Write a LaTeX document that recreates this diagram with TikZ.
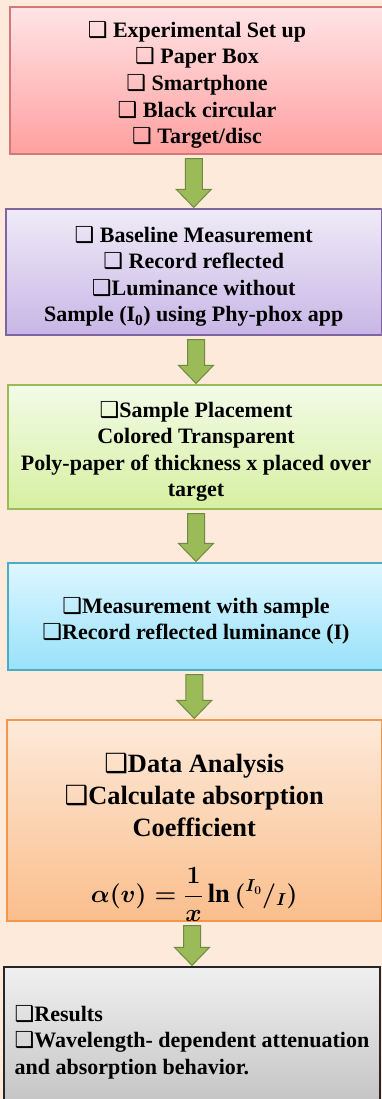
\documentclass[tikz,border=0pt]{standalone}
\usepackage{amsmath}
\usepackage{fontspec}
\setmainfont{Liberation Serif}
\newfontfamily\dingfont{DejaVu Sans}
\usetikzlibrary{calc}
\definecolor{pagebg}{RGB}{253,234,218}
\definecolor{setuptop}{RGB}{255,228,230}
\definecolor{setupbot}{RGB}{255,160,160}
\definecolor{setupedge}{RGB}{214,118,118}
\definecolor{basetop}{RGB}{239,235,247}
\definecolor{basebot}{RGB}{200,182,230}
\definecolor{baseedge}{RGB}{128,100,162}
\definecolor{sampletop}{RGB}{242,251,232}
\definecolor{samplebot}{RGB}{214,240,160}
\definecolor{sampleedge}{RGB}{155,187,89}
\definecolor{meastop}{RGB}{222,246,255}
\definecolor{measbot}{RGB}{152,226,250}
\definecolor{measedge}{RGB}{75,172,198}
\definecolor{datatop}{RGB}{253,234,218}
\definecolor{databot}{RGB}{250,190,140}
\definecolor{dataedge}{RGB}{247,150,70}
\definecolor{restop}{RGB}{240,240,240}
\definecolor{resbot}{RGB}{192,192,192}
\definecolor{arrowgreen}{RGB}{155,187,89}
\definecolor{arrowedge}{RGB}{113,137,63}

% shadowed check box in front of each item
\newcommand{\chk}{{\dingfont\char"2751}}
% a bit of extra room above the first line
\newcommand{\topstrut}{\rule{0pt}{25pt}}

% block arrow from the bottom of one stage down to the next
\newcommand{\flowarrow}[2]{%
  \draw[flowarr] let \p1=(#1.south), \p2=(#2.north) in
    (\x2-8.5pt,\y1-4pt) -- (\x2-8.5pt,\y2+19pt) -- (\x2-17.5pt,\y2+19pt)
    -- (\x2,\y2+1pt) -- (\x2+17.5pt,\y2+19pt) -- (\x2+8.5pt,\y2+19pt)
    -- (\x2+8.5pt,\y1-4pt) -- cycle;}

\begin{document}
\begin{tikzpicture}[x=1pt, y=1pt,
    stage/.style={rectangle, draw, line width=1.2pt,
                  font=\bfseries\fontsize{22}{26.6}\selectfont,
                  align=center, inner sep=0pt},
    flowarr/.style={fill=arrowgreen, draw=arrowedge, line width=1pt}
]
    \useasboundingbox (0,0) rectangle (382,-1099);
    \clip (0,0) rectangle (382,-1099);
    \fill[pagebg] (0,0) rectangle (382,-1099);

    \node[stage, top color=setuptop, bottom color=setupbot, draw=setupedge,
          minimum width=374pt, minimum height=147pt] (setup) at (197,-80.5)
        {\topstrut\chk{} Experimental Set up\\ \chk{} Paper Box\\ \chk{} Smartphone\\
         \chk{} Black circular\\ \chk{} Target/disc};
    \node[stage, top color=basetop, bottom color=basebot, draw=baseedge,
          minimum width=375.5pt, minimum height=126pt] (baseline) at (193.75,-272)
        {\topstrut\chk{} Baseline Measurement\\ \chk{} Record reflected\\
         \chk Luminance without\\ Sample (I\textsubscript{0}) using Phy-phox app};
    \node[stage, top color=sampletop, bottom color=samplebot, draw=sampleedge,
          minimum width=376pt, minimum height=124pt] (sample) at (196,-447)
        {\topstrut\chk Sample Placement\\ Colored Transparent\\
         Poly-paper of thickness x placed over\\ target};
    \node[stage, top color=meastop, bottom color=measbot, draw=measedge,
          minimum width=376pt, minimum height=107pt] (meas) at (196,-616.5)
        {\topstrut\chk Measurement with sample\\ \chk Record reflected luminance (I)};
    \node[stage, top color=datatop, bottom color=databot, draw=dataedge,
          font=\bfseries\fontsize{26.4}{31.7}\selectfont,
          minimum width=374.5pt, minimum height=195pt] (data) at (194.25,-820.5)
        {\rule{0pt}{53pt}\chk Data Analysis\\ \chk Calculate absorption\\
         Coefficient\\[30pt]
         {\boldmath$\displaystyle \alpha(v)=\frac{1}{x}\ln\,(^{I_0}/{}_{I})$}};
    \node[stage, top color=restop, bottom color=resbot, draw=black!85,
          align=left, minimum width=376pt,
          minimum height=150pt] (results) at (192,-1042)
        {\chk Results\\ \chk Wavelength- dependent attenuation\\
         and absorption behavior.};

    \flowarrow{setup}{baseline}
    \flowarrow{baseline}{sample}
    \flowarrow{sample}{meas}
    \flowarrow{meas}{data}
    \flowarrow{data}{results}
\end{tikzpicture}
\end{document}
